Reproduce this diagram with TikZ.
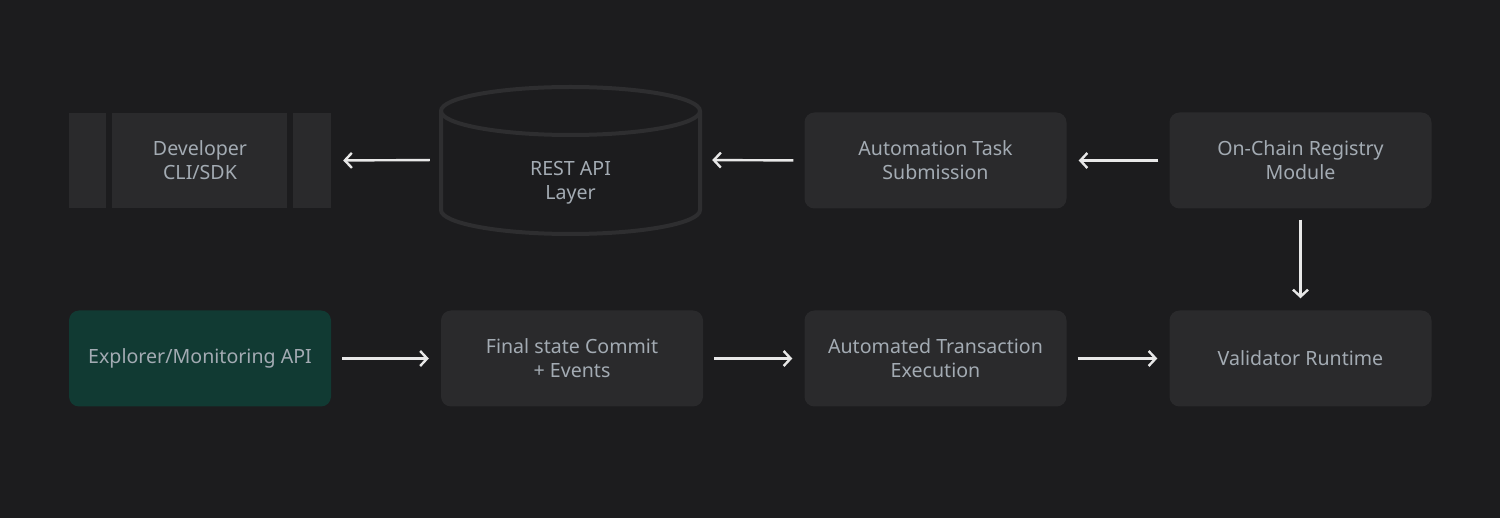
\documentclass[tikz,border=0pt]{standalone}
\usepackage{fontspec}
\setmainfont{Noto Sans}
\usetikzlibrary{arrows.meta}
\definecolor{bg}{HTML}{1C1C1E}
\definecolor{boxc}{HTML}{2A2A2C}
\definecolor{cylc}{HTML}{2E2E30}
\definecolor{greenc}{HTML}{113A33}
\definecolor{txt}{HTML}{A3ABB3}
\definecolor{arr}{HTML}{E8E8E8}
\begin{document}
\begin{tikzpicture}[x=1pt,y=-1pt,
  lbl/.style={text=txt,font=\fontsize{19.6}{24}\selectfont,align=center},
  card/.style={lbl,fill=boxc,rounded corners=10pt,minimum width=262pt,minimum height=96pt,inner sep=0pt},
  flow/.style={draw=arr,line width=2.4pt,-{Straight Barb[length=7pt,width=15pt,line width=2.4pt]},shorten >=12pt,shorten <=11pt}]
\fill[bg] (0,0) rectangle (1500,518);
\useasboundingbox (0,0) rectangle (1500,518);
% Developer CLI/SDK (subroutine-like)
\fill[boxc] (69,113) rectangle (106,208);
\fill[boxc] (112,113) rectangle (287,208);
\fill[boxc] (293,113) rectangle (331,208);
\node[lbl,minimum width=262pt,minimum height=96pt,inner sep=0pt] (dev) at (200,160.5) {Developer\\CLI/SDK};
% REST API cylinder
\node[minimum width=259pt,minimum height=147pt,inner sep=0pt] (rest) at (570.5,160) {};
\draw[cylc,line width=4pt] (570.5,111) ellipse [x radius=129.5,y radius=24];
\draw[cylc,line width=4pt] (441,111) -- (441,210) arc[start angle=180,end angle=360,x radius=129.5,y radius=-24] -- (700,111);
\node[lbl] (restlbl) at (570.5,182.5) {REST API\\Layer};
% cards
\node[card] (task) at (935.5,160.5) {Automation Task\\Submission};
\node[card] (reg) at (1300.5,160.5) {On-Chain Registry\\Module};
\node[card,fill=greenc] (expl) at (200,358.5) {\raisebox{-1.5pt}{Explorer/Monitoring API}};
\node[card] (final) at (572,358.5) {Final state Commit\\+ Events};
\node[card] (exec) at (935.5,358.5) {Automated Transaction\\Execution};
\node[card] (val) at (1300.5,358.5) {\raisebox{-1.5pt}{Validator Runtime}};
% arrows
\draw[flow] (rest.west) -- (dev.east);
\draw[flow] (task.west) -- (rest.east);
\draw[flow] (reg.west) -- (task.east);
\draw[flow] (reg.south) -- (val.north);
\draw[flow] (expl.east) -- (final.west);
\draw[flow] (final.east) -- (exec.west);
\draw[flow] (exec.east) -- (val.west);
\end{tikzpicture}
\end{document}
